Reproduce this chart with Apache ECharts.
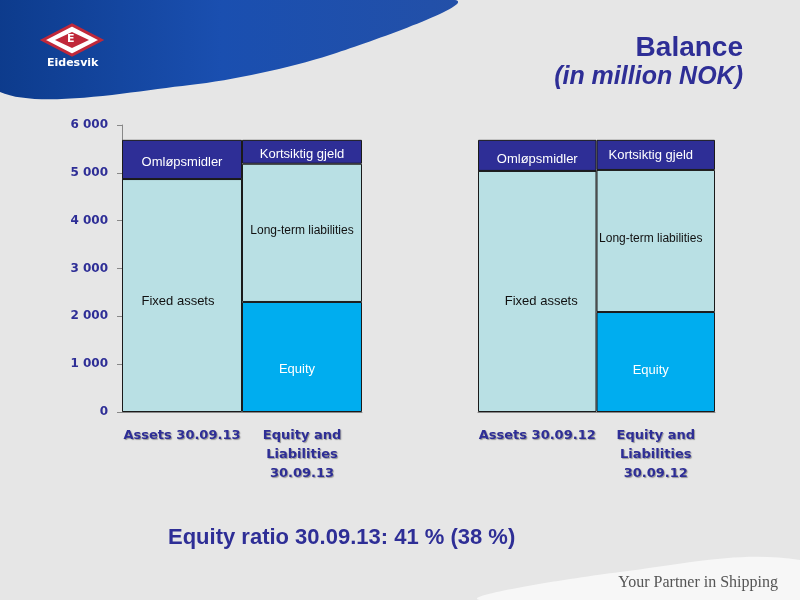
<!DOCTYPE html>
<html><head><meta charset="utf-8">
<script src="https://cdn.jsdelivr.net/npm/echarts@6/dist/echarts.min.js"></script>
<style>html,body{margin:0;padding:0;background:#e6e6e6}#container{width:800px;height:600px}</style>
</head><body><div id="container"></div>
<script>
var catsL = ["Assets 30.09.13", "Equity and\nLiabilities\n30.09.13"];
var catsR = ["Assets 30.09.12", "Equity and\nLiabilities\n30.09.12"];
// [assets, equity & liabilities]
var bottomL = [4870, 2300];   // Fixed assets / Equity
var middleL = [0, 2890];      // - / Long-term liabilities
var topL = [820, 500];        // Omløpsmidler / Kortsiktig gjeld
var bottomR = [5040, 2090];
var middleR = [0, 2970];
var topR = [650, 630];
var yTicks = [0, 1000, 2000, 3000, 4000, 5000, 6000];

var dom = document.getElementById("container");
var myChart = echarts.init(dom);

var navy = "#2e2e96";
var light = "#b9e0e4";
var cyan = "#00adef";

function seg(vals, names, colors, labelColors, offsets, gi, stackName) {
  return {
    type: "bar", stack: stackName, xAxisIndex: gi, yAxisIndex: gi,
    barCategoryGap: 0, barWidth: "100%",
    data: vals.map(function(v, i) {
      return {
        value: v,
        itemStyle: { color: colors[i], borderColor: "#1a1a1a", borderWidth: 1 },
        label: { show: names[i] !== "", formatter: names[i], color: labelColors[i], fontSize: offsets[i][2] || 13,
          fontFamily: "Liberation Sans", offset: [offsets[i][0], offsets[i][1]] }
      };
    })
  };
}

function xAxis(gi, cats) {
  return {
    type: "category", gridIndex: gi, data: cats,
    axisTick: { show: false },
    axisLine: { lineStyle: { color: "#888" } },
    axisLabel: { color: navy, fontWeight: 900, fontSize: 13, fontFamily: "DejaVu Sans", lineHeight: 19, interval: 0, margin: 14,
      textShadowColor: "rgba(0,0,0,0.35)", textShadowOffsetX: 1, textShadowOffsetY: 1, textShadowBlur: 1 }
  };
}

var option = {
  backgroundColor: "#e6e6e6",
  animation: false,
  graphic: [
    { type: "polygon", shape: { smooth: 0.3, points: [[0, 0], [455, 0], [330, 55], [190, 85], [0, 92]] },
      style: { fill: { type: "linear", x: 0, y: 0, x2: 1, y2: 0, colorStops: [{ offset: 0, color: "#0c3a8a" }, { offset: 0.5, color: "#1a4fb0" }, { offset: 1, color: "#2350a8" }] } } },
    { type: "polygon", shape: { points: [[43, 40], [72, 25], [101, 40], [72, 55]] }, style: { fill: "#fff", stroke: "#c0283a", lineWidth: 3 } },
    { type: "polygon", shape: { points: [[55, 40], [72, 32], [89, 40], [72, 48]] }, style: { fill: "#c0283a" } },
    { type: "text", left: 67, top: 34, style: { text: "E", fill: "#fff", font: "bold 11px DejaVu Sans" } },
    { type: "text", left: 47, top: 58, style: { text: "Eidesvik", fill: "#fff", font: "bold 11px DejaVu Sans" } },
    { type: "polygon", shape: { smooth: 0.4, points: [[480, 600], [620, 572], [800, 560], [800, 600]] }, style: { fill: "#f7f7f7" } },
    { type: "text", right: 22, top: 575, style: { text: "Your Partner in Shipping", fill: "#555", font: "16px Liberation Serif" } },
    { type: "text", right: 57, top: 34, style: { text: "Balance", fill: navy, font: "bold 28px Liberation Sans",
      textShadowColor: "rgba(0,0,0,0.3)", textShadowOffsetX: 1, textShadowOffsetY: 1 } },
    { type: "text", right: 57, top: 65, style: { text: "(in million NOK)", fill: navy, font: "italic bold 25px Liberation Sans",
      textShadowColor: "rgba(0,0,0,0.3)", textShadowOffsetX: 1, textShadowOffsetY: 1 } },
    { type: "text", left: 168, top: 527, style: { text: "Equity ratio 30.09.13: 41 % (38 %)", fill: navy, font: "bold 22px Liberation Sans" } }
  ],
  grid: [
    { left: 122, top: 125, width: 240, height: 287 },
    { left: 478, top: 125, width: 237, height: 287 }
  ],
  xAxis: [xAxis(0, catsL), xAxis(1, catsR)],
  yAxis: [
    { type: "value", gridIndex: 0, min: 0, max: 6000, interval: 1000,
      splitLine: { show: false },
      axisLine: { show: true, lineStyle: { color: "#888" } },
      axisTick: { show: true, length: 5, lineStyle: { color: "#888" } },
      axisLabel: { color: navy, fontWeight: 900, fontSize: 12, fontFamily: "DejaVu Sans", margin: 14,
        textShadowColor: "rgba(0,0,0,0.3)", textShadowOffsetX: 1, textShadowOffsetY: 1,
        formatter: function(v) { return yTicks.indexOf(v) >= 0 ? String(v).replace(/\B(?=(\d{3})+$)/g, " ") : ""; } } },
    { type: "value", gridIndex: 1, min: 0, max: 6000, interval: 1000, show: false, splitLine: { show: false } }
  ],
  series: [
    seg(bottomL, ["Fixed assets", "Equity"], [light, cyan], ["#111", "#fff"], [[-4, 6], [-5, 12]], 0, "l"),
    seg(middleL, ["", "Long-term liabilities"], [light, light], ["#111", "#111"], [[0, 0], [0, -2, 12]], 0, "l"),
    seg(topL, ["Omløpsmidler", "Kortsiktig gjeld"], [navy, navy], ["#fff", "#fff"], [[0, 3], [0, 3]], 0, "l"),
    seg(bottomR, ["Fixed assets", "Equity"], [light, cyan], ["#111", "#fff"], [[4, 10], [-5, 8]], 1, "r"),
    seg(middleR, ["", "Long-term liabilities"], [light, light], ["#111", "#111"], [[0, 0], [-5, -2, 12]], 1, "r"),
    seg(topR, ["Omløpsmidler", "Kortsiktig gjeld"], [navy, navy], ["#fff", "#fff"], [[0, 4], [-5, 1]], 1, "r")
  ]
};

myChart.setOption(option, true);
</script></body></html>
